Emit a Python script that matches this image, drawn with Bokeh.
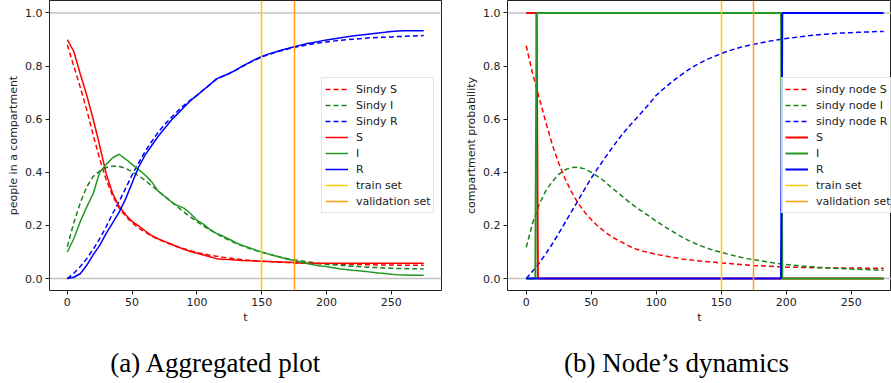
from bokeh.plotting import figure
from bokeh.models import Range1d, FixedTicker, PrintfTickFormatter, Span, Label
from bokeh.layouts import row, column
from bokeh.embed import file_html
from bokeh.resources import INLINE

# ---------------- data ----------------
t_agg = list(range(0, 276, 5))

# (a) aggregated plot
sindy_S = [0.880, 0.800, 0.720, 0.635, 0.540, 0.450, 0.372, 0.312, 0.265, 0.235,
           0.210, 0.190, 0.175, 0.160, 0.148, 0.138, 0.128, 0.120, 0.112, 0.105,
           0.098, 0.093, 0.088, 0.084, 0.080, 0.077, 0.074, 0.071, 0.069, 0.067,
           0.065, 0.064, 0.062, 0.061, 0.060, 0.059, 0.058, 0.057, 0.056, 0.056,
           0.055, 0.055, 0.054, 0.054, 0.053, 0.053, 0.052, 0.052, 0.051, 0.051,
           0.051, 0.050, 0.050, 0.050, 0.050, 0.050]
sindy_I = [0.120, 0.210, 0.285, 0.345, 0.385, 0.405, 0.418, 0.423, 0.422, 0.415,
           0.402, 0.387, 0.370, 0.350, 0.330, 0.310, 0.290, 0.270, 0.250, 0.232,
           0.214, 0.198, 0.183, 0.169, 0.156, 0.144, 0.133, 0.123, 0.114, 0.106,
           0.099, 0.092, 0.086, 0.080, 0.075, 0.071, 0.067, 0.063, 0.060, 0.057,
           0.054, 0.052, 0.050, 0.048, 0.046, 0.045, 0.043, 0.042, 0.041, 0.040,
           0.039, 0.038, 0.038, 0.037, 0.037, 0.036]
sindy_R = [0.000, 0.020, 0.045, 0.075, 0.110, 0.150, 0.195, 0.245, 0.290, 0.340,
           0.390, 0.435, 0.478, 0.515, 0.550, 0.580, 0.605, 0.630, 0.652, 0.672,
           0.690, 0.710, 0.730, 0.750, 0.762, 0.773, 0.785, 0.798, 0.811, 0.823,
           0.834, 0.843, 0.851, 0.858, 0.864, 0.870, 0.875, 0.880, 0.884, 0.888,
           0.891, 0.894, 0.897, 0.899, 0.901, 0.903, 0.905, 0.907, 0.908, 0.909,
           0.910, 0.911, 0.912, 0.913, 0.914, 0.915]
obs_S = [0.900, 0.855, 0.770, 0.690, 0.600, 0.500, 0.395, 0.320, 0.272, 0.240,
         0.215, 0.198, 0.180, 0.162, 0.150, 0.140, 0.130, 0.120, 0.110, 0.102,
         0.095, 0.089, 0.082, 0.075, 0.073, 0.072, 0.070, 0.068, 0.067, 0.066,
         0.065, 0.064, 0.063, 0.062, 0.061, 0.060, 0.059, 0.059, 0.058, 0.058,
         0.058, 0.058, 0.058, 0.058, 0.058, 0.058, 0.058, 0.058, 0.058, 0.058,
         0.058, 0.058, 0.058, 0.058, 0.058, 0.058]
obs_I = [0.100, 0.150, 0.215, 0.270, 0.320, 0.400, 0.430, 0.455, 0.468, 0.450,
         0.430, 0.410, 0.390, 0.365, 0.330, 0.310, 0.290, 0.275, 0.265, 0.245,
         0.220, 0.205, 0.185, 0.170, 0.160, 0.148, 0.135, 0.125, 0.117, 0.108,
         0.100, 0.093, 0.086, 0.079, 0.073, 0.068, 0.062, 0.057, 0.052, 0.047,
         0.045, 0.041, 0.037, 0.034, 0.031, 0.029, 0.027, 0.024, 0.021, 0.019,
         0.016, 0.014, 0.013, 0.012, 0.012, 0.012]
obs_R = [0.000, 0.005, 0.018, 0.050, 0.090, 0.125, 0.170, 0.210, 0.250, 0.300,
         0.360, 0.420, 0.465, 0.500, 0.535, 0.565, 0.595, 0.620, 0.645, 0.670,
         0.690, 0.710, 0.730, 0.752, 0.762, 0.772, 0.785, 0.800, 0.812, 0.825,
         0.836, 0.845, 0.852, 0.860, 0.866, 0.873, 0.879, 0.885, 0.889, 0.894,
         0.898, 0.902, 0.906, 0.910, 0.913, 0.916, 0.919, 0.922, 0.925, 0.927,
         0.930, 0.932, 0.933, 0.933, 0.933, 0.933]

# (b) node's dynamics
node_sindy_S = [0.877, 0.770, 0.680, 0.590, 0.505, 0.435, 0.375, 0.325, 0.283, 0.250,
                0.222, 0.198, 0.178, 0.160, 0.146, 0.133, 0.120, 0.110, 0.103, 0.097,
                0.091, 0.087, 0.082, 0.078, 0.074, 0.071, 0.068, 0.065, 0.063, 0.061,
                0.059, 0.057, 0.055, 0.053, 0.051, 0.049, 0.048, 0.047, 0.046, 0.044,
                0.043, 0.043, 0.042, 0.042, 0.041, 0.041, 0.041, 0.040, 0.040, 0.040,
                0.040, 0.040, 0.039, 0.039, 0.039, 0.039]
node_sindy_I = [0.118, 0.210, 0.280, 0.330, 0.365, 0.392, 0.410, 0.418, 0.419, 0.413,
                0.400, 0.385, 0.367, 0.345, 0.325, 0.305, 0.285, 0.267, 0.250, 0.234,
                0.216, 0.200, 0.185, 0.170, 0.156, 0.143, 0.132, 0.122, 0.113, 0.105,
                0.099, 0.092, 0.086, 0.080, 0.075, 0.071, 0.067, 0.063, 0.059, 0.056,
                0.053, 0.050, 0.048, 0.046, 0.044, 0.042, 0.041, 0.039, 0.038, 0.037,
                0.036, 0.035, 0.034, 0.033, 0.032, 0.031]
node_sindy_R = [0.000, 0.028, 0.058, 0.093, 0.130, 0.170, 0.212, 0.253, 0.295, 0.337,
                0.378, 0.415, 0.450, 0.485, 0.518, 0.550, 0.578, 0.605, 0.632, 0.660,
                0.690, 0.712, 0.732, 0.752, 0.770, 0.787, 0.802, 0.815, 0.827, 0.837,
                0.847, 0.856, 0.864, 0.871, 0.877, 0.882, 0.887, 0.892, 0.896, 0.900,
                0.904, 0.907, 0.910, 0.913, 0.916, 0.918, 0.920, 0.922, 0.924, 0.925,
                0.926, 0.927, 0.928, 0.929, 0.930, 0.930]
t_node_S = [0, 8, 9, 275]
node_S = [1, 1, 0, 0]
t_node_I = [0, 7, 8, 196, 197, 275]
node_I = [0, 0, 1, 1, 0, 0]
t_node_R = [0, 196, 197, 275]
node_R = [0, 0, 1, 1]

train_end = 150
val_end = 175

x_ticks = [0, 50, 100, 150, 200, 250]
y_ticks = [0.0, 0.2, 0.4, 0.6, 0.8, 1.0]
y_labels = ["people in a compartment", "compartment probability"]
x_label = "t"
captions = ["(a) Aggregated plot", "(b) Node\u2019s dynamics"]
legend_a = ["Sindy S", "Sindy I", "Sindy R", "S", "I", "R", "train set", "validation set"]
legend_b = ["sindy node S", "sindy node I", "sindy node R", "S", "I", "R", "train set", "validation set"]

# ---------------- style ----------------
FONT = "DejaVu Sans"
RED, GREEN_D, GREEN, BLUE = "#ff0000", "#1a801a", "#229922", "#0000ff"
TRAIN_C, VAL_C = "#ffcc00", "#ff9f10"
TXT = "#222222"


def make_fig(width, xr, ylab, b_left, b_right):
    p = figure(width=width, height=330, output_backend="svg", toolbar_location=None,
               x_range=Range1d(*xr), y_range=Range1d(-0.045, 1.047),
               min_border_left=b_left, min_border_right=b_right,
               min_border_top=0, min_border_bottom=40)
    p.grid.visible = False
    p.outline_line_color = "#222222"
    p.outline_line_width = 1
    p.background_fill_color = "white"
    p.border_fill_color = "white"
    p.xaxis.ticker = FixedTicker(ticks=x_ticks, minor_ticks=[])
    p.yaxis.ticker = FixedTicker(ticks=y_ticks, minor_ticks=[])
    p.yaxis.formatter = PrintfTickFormatter(format="%.1f")
    for ax in (p.xaxis[0], p.yaxis[0]):
        ax.axis_line_color = None
        ax.major_tick_out = 4
        ax.major_tick_in = 0
        ax.major_tick_line_color = TXT
        ax.major_label_text_font = FONT
        ax.major_label_text_font_size = "11px"
        ax.major_label_text_color = TXT
        ax.major_label_standoff = 3
        ax.axis_label_text_font = FONT
        ax.axis_label_text_font_size = "11px"
        ax.axis_label_text_font_style = "normal"
        ax.axis_label_text_color = TXT
    p.xaxis.axis_label_standoff = 2
    p.yaxis.axis_label_standoff = 2
    p.xaxis.axis_label = x_label
    p.yaxis.axis_label = ylab
    for loc in (0.0, 1.0):
        p.add_layout(Span(location=loc, dimension="width", line_color="#c4c4c4",
                          line_width=1.5, level="underlay"))
    return p


def style_legend(p, loc):
    lg = p.legend[0]
    lg.location = loc
    lg.label_text_font = FONT
    lg.label_text_font_size = "11px"
    lg.label_text_color = TXT
    lg.glyph_width = 23
    lg.glyph_height = 16
    lg.label_height = 16
    lg.spacing = 0
    lg.padding = 3
    lg.margin = 0
    lg.label_standoff = 8
    lg.border_line_color = "#cccccc"
    lg.border_line_width = 1
    lg.background_fill_alpha = 0.8


# ---------------- (a) ----------------
p1 = make_fig(458, (-13.75, 288.75), y_labels[0], 49, 17)
p1.line(t_agg, sindy_S, line_color=RED, line_dash="5 3", line_width=1.5, legend_label=legend_a[0])
p1.line(t_agg, sindy_I, line_color=GREEN_D, line_dash="5 3", line_width=1.5, legend_label=legend_a[1])
p1.line(t_agg, sindy_R, line_color=BLUE, line_dash="5 3", line_width=1.5, legend_label=legend_a[2])
p1.line(t_agg, obs_S, line_color=RED, line_width=1.5, legend_label=legend_a[3])
p1.line(t_agg, obs_I, line_color=GREEN, line_width=1.5, legend_label=legend_a[4])
p1.line(t_agg, obs_R, line_color=BLUE, line_width=1.5, legend_label=legend_a[5])
p1.vspan(x=[train_end], line_color=TRAIN_C, line_width=1.5, legend_label=legend_a[6])
p1.vspan(x=[val_end], line_color=VAL_C, line_width=1.5, legend_label=legend_a[7])
style_legend(p1, (272, 77))

# ---------------- (b) ----------------
p2 = make_fig(433, (-14.4, 281.0), y_labels[1], 49, 0)
p2.line(t_agg, node_sindy_S, line_color=RED, line_dash="5 3", line_width=1.5, legend_label=legend_b[0])
p2.line(t_agg, node_sindy_I, line_color=GREEN_D, line_dash="5 3", line_width=1.5, legend_label=legend_b[1])
p2.line(t_agg, node_sindy_R, line_color=BLUE, line_dash="5 3", line_width=1.5, legend_label=legend_b[2])
p2.line(t_node_S, node_S, line_color=RED, line_width=2, legend_label=legend_b[3])
p2.line(t_node_I, node_I, line_color=GREEN, line_width=2, legend_label=legend_b[4])
p2.line(t_node_R, node_R, line_color=BLUE, line_width=2, legend_label=legend_b[5])
p2.vspan(x=[train_end], line_color=TRAIN_C, line_width=1.5, legend_label=legend_b[6])
p2.vspan(x=[val_end], line_color=VAL_C, line_width=1.5, legend_label=legend_b[7])
style_legend(p2, (274, 77))

# ---------------- captions ----------------
cap = figure(width=891, height=53, output_backend="svg", toolbar_location=None,
             x_range=Range1d(0, 891), y_range=Range1d(0, 53),
             x_axis_location=None, y_axis_location=None, min_border=0)
cap.grid.visible = False
cap.outline_line_color = None
cap.add_layout(Label(x=215.5, y=21, text=captions[0], text_align="center",
                     text_baseline="middle", text_font="Liberation Serif",
                     text_font_size="27px", text_color="black"))
cap.add_layout(Label(x=676, y=21, text=captions[1], text_align="center",
                     text_baseline="middle", text_font="Liberation Serif",
                     text_font_size="27px", text_color="black"))

layout = column(row(p1, p2), cap)
open("out.html", "w").write(file_html(layout, INLINE))
